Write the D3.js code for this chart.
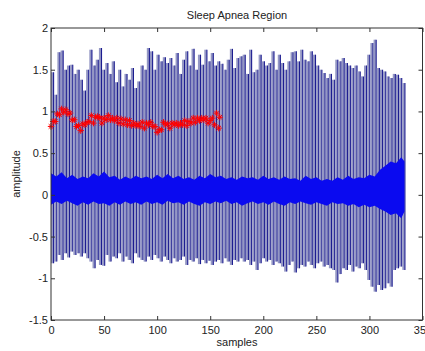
<html>
<head>
<script src="https://d3js.org/d3.v7.min.js"></script>
<style>
  body { margin: 0; background: #fff; }
  svg text { font-family: 'Liberation Sans', Arial, sans-serif; fill: #222; }
</style>
</head>
<body>
<svg id="svg" width="425" height="351"></svg>
<script>
// beat peaks / troughs (one value per visible spike)
var peaks = [1.47, 1.2, 1.71, 1.73, 1.5, 1.55, 1.56, 1.45, 1.5, 1.38,
  1.25, 1.5, 1.74, 1.55, 1.62, 1.76, 1.5, 1.58, 1.45, 1.6,
  1.35, 1.5, 1.3, 1.45, 1.38, 1.52, 1.28, 1.36, 1.55, 1.5,
  1.76, 1.72, 1.5, 1.68, 1.6, 1.65, 1.58, 1.64, 1.55, 1.7,
  1.45, 1.62, 1.72, 1.55, 1.75, 1.5, 1.68, 1.56, 1.74, 1.6,
  1.7, 1.55, 1.6, 1.57, 1.5, 1.62, 1.75, 1.52, 1.64, 1.66,
  1.68, 1.45, 1.74, 1.47, 1.5, 1.68, 1.6, 1.55, 1.58, 1.72,
  1.5, 1.68, 1.58, 1.5, 1.6, 1.71, 1.72, 1.6, 1.74, 1.62,
  1.6, 1.72, 1.68, 1.55, 1.5, 1.46, 1.4, 1.45, 1.38, 1.62,
  1.6, 1.64, 1.58, 1.55, 1.52, 1.55, 1.48, 1.42, 1.55, 1.68,
  1.82, 1.86, 1.52, 1.5, 1.48, 1.42, 1.4, 1.45, 1.44, 1.4, 1.34];
var troughs = [-0.82, -0.8, -0.72, -0.78, -0.7, -0.75, -0.68, -0.72, -0.7, -0.74,
  -0.7, -0.76, -0.8, -0.88, -0.78, -0.84, -0.85, -0.72, -0.8, -0.74,
  -0.76, -0.7, -0.8, -0.74, -0.78, -0.82, -0.7, -0.75, -0.78, -0.8,
  -0.74, -0.78, -0.72, -0.76, -0.8, -0.74, -0.78, -0.82, -0.76, -0.8,
  -0.78, -0.74, -0.84, -0.78, -0.8, -0.76, -0.83, -0.78, -0.82, -0.79,
  -0.84, -0.8, -0.78, -0.82, -0.76, -0.8, -0.84, -0.78, -0.8, -0.76,
  -0.8, -0.78, -0.84, -0.8, -0.9, -0.82, -0.76, -0.8, -0.78, -0.84,
  -0.8, -0.82, -0.86, -0.92, -0.84, -0.8, -0.93, -0.88, -0.84, -0.86,
  -0.8, -0.84, -0.88, -0.82, -0.8, -0.86, -0.84, -0.88, -0.9, -1.05,
  -0.95, -0.88, -0.9, -0.84, -0.92, -0.86, -0.88, -0.82, -0.9, -1.02,
  -1.1, -1.16, -1.08, -1.14, -1.12, -1.06, -1.1, -0.9, -0.88, -0.86, -0.9];

// dense baseline band (envelope)
var bandX = [0, 5, 10, 15, 20, 25, 30, 35, 40, 45, 50, 55, 60, 65, 70, 75, 80, 85, 90, 95,
  100, 105, 110, 115, 120, 125, 130, 135, 140, 145, 150, 155, 160, 165, 170, 175, 180, 185, 190, 195,
  200, 205, 210, 215, 220, 225, 230, 235, 240, 245, 250, 255, 260, 265, 270, 275, 280, 285, 290, 295,
  300, 305, 310, 315, 320, 325, 330, 333];
var bandHi = [0.26, 0.22, 0.27, 0.2, 0.24, 0.19, 0.22, 0.2, 0.26, 0.22, 0.28, 0.21, 0.23, 0.18, 0.22,
  0.19, 0.23, 0.2, 0.22, 0.19, 0.24, 0.2, 0.25, 0.2, 0.23, 0.19, 0.21, 0.18, 0.23, 0.2, 0.25, 0.21,
  0.23, 0.19, 0.21, 0.18, 0.22, 0.2, 0.21, 0.18, 0.23, 0.19, 0.21, 0.18, 0.22, 0.19, 0.2, 0.17, 0.23,
  0.19, 0.21, 0.17, 0.19, 0.17, 0.21, 0.18, 0.23, 0.19, 0.21, 0.2, 0.24, 0.22, 0.3, 0.35, 0.4, 0.38,
  0.45, 0.4];
var bandLo = [-0.12, -0.08, -0.11, -0.07, -0.1, -0.13, -0.09, -0.12, -0.08, -0.11, -0.1, -0.13, -0.09,
  -0.12, -0.08, -0.11, -0.09, -0.12, -0.08, -0.11, -0.09, -0.12, -0.07, -0.1, -0.09, -0.12, -0.08,
  -0.11, -0.13, -0.09, -0.11, -0.08, -0.1, -0.07, -0.11, -0.09, -0.13, -0.1, -0.08, -0.11, -0.09,
  -0.12, -0.08, -0.11, -0.13, -0.09, -0.11, -0.08, -0.1, -0.12, -0.09, -0.11, -0.13, -0.09, -0.11,
  -0.1, -0.13, -0.11, -0.15, -0.12, -0.15, -0.13, -0.17, -0.2, -0.24, -0.22, -0.28, -0.2];

// red detection markers
var redX = [0, 2, 4, 6, 8, 10, 12, 14, 16, 18, 20, 22, 24, 26, 28, 30, 32, 34, 36, 38, 40, 42, 44, 46,
  48, 50, 52, 54, 56, 58, 60, 62, 64, 66, 68, 70, 72, 74, 76, 78, 80, 82, 84, 86, 88, 90, 92, 94, 96,
  98, 100, 102, 104, 106, 108, 110, 112, 114, 116, 118, 120, 122, 124, 126, 128, 130, 132, 134, 136,
  138, 140, 142, 144, 146, 148, 150, 152, 154, 156, 158, 159];
var redY = [0.82, 0.88, 0.88, 0.97, 0.96, 1.03, 0.99, 1.02, 0.97, 0.98, 0.9, 0.9, 0.82, 0.83, 0.77,
  0.85, 0.84, 0.87, 0.88, 0.95, 0.86, 0.93, 0.94, 0.92, 0.86, 0.92, 0.9, 0.95, 0.9, 0.92, 0.89, 0.92,
  0.86, 0.91, 0.85, 0.9, 0.84, 0.89, 0.83, 0.86, 0.83, 0.85, 0.82, 0.87, 0.8, 0.86, 0.84, 0.87, 0.82,
  0.82, 0.75, 0.78, 0.78, 0.87, 0.84, 0.85, 0.8, 0.86, 0.84, 0.86, 0.83, 0.86, 0.84, 0.89, 0.83, 0.88,
  0.86, 0.92, 0.87, 0.92, 0.89, 0.92, 0.9, 0.92, 0.86, 0.89, 0.92, 0.84, 0.98, 0.8, 0.93];

var xTicks = [0, 50, 100, 150, 200, 250, 300, 350];
var yTicks = [-1.5, -1, -0.5, 0, 0.5, 1, 1.5, 2];

var svg = d3.select("svg");
var x = d3.scaleLinear().domain([0, 350]).range([51, 422.5]);
var y = d3.scaleLinear().domain([-1.5, 2]).range([320, 28]);
var beat = d3.scaleLinear().domain([0, peaks.length - 1]).range([0, 331]);

// spikes
var spikes = svg.append("g");
peaks.forEach(function(p, i) {
    var px = x(beat(i));
    spikes.append("rect")
        .attr("x", px).attr("width", 2.5)
        .attr("y", y(p)).attr("height", y(troughs[i]) - y(p))
        .attr("fill", "#9497c4");
    spikes.append("line")
        .attr("x1", px + 2.6).attr("x2", px + 2.6)
        .attr("y1", y(p)).attr("y2", y(troughs[i]))
        .attr("stroke", "#1c1c90").attr("stroke-width", 1.1);
});

// baseline band
var area = d3.area()
    .x(function(d, i) { return x(bandX[i]); })
    .y0(function(d, i) { return y(bandLo[i]); })
    .y1(function(d, i) { return y(bandHi[i]); });
svg.append("path").datum(bandX).attr("d", area).attr("fill", "#0a0af0");

// red markers
var marks = svg.append("g").attr("stroke", "#ff0000").attr("stroke-width", 1);
redX.forEach(function(v, i) {
    var cx = x(v), cy = y(redY[i]), s = 3.2, t = 2.3;
    marks.append("path")
        .attr("d", "M" + (cx - s) + "," + cy + "H" + (cx + s) + "M" + cx + "," + (cy - s) + "V" + (cy + s)
            + "M" + (cx - t) + "," + (cy - t) + "L" + (cx + t) + "," + (cy + t)
            + "M" + (cx - t) + "," + (cy + t) + "L" + (cx + t) + "," + (cy - t))
        .attr("fill", "none");
});

// axes with inward ticks
function styleAxis(g) {
    g.select(".domain").remove();
    g.selectAll(".tick line").attr("stroke", "#333");
    g.selectAll("text").attr("font-size", 11).attr("fill", "#222")
        .style("font-family", "'Liberation Sans', Arial, sans-serif");
}
svg.append("g").attr("transform", "translate(0,320)")
    .call(d3.axisBottom(x).tickValues(xTicks).tickSize(-4).tickPadding(6).tickFormat(d3.format("d")))
    .call(styleAxis);
svg.append("g").attr("transform", "translate(0,28)")
    .call(d3.axisTop(x).tickValues(xTicks).tickSize(-4).tickFormat(""))
    .call(styleAxis);
svg.append("g").attr("transform", "translate(51,0)")
    .call(d3.axisLeft(y).tickValues(yTicks).tickSize(-4).tickPadding(3).tickFormat(function(d) { return String(d); }))
    .call(styleAxis);
svg.append("g").attr("transform", "translate(422.5,0)")
    .call(d3.axisRight(y).tickValues(yTicks).tickSize(-4).tickFormat(""))
    .call(styleAxis);

svg.append("rect").attr("x", 51).attr("y", 28).attr("width", 371.5).attr("height", 292)
    .attr("fill", "none").attr("stroke", "#333").attr("stroke-width", 1);

svg.append("text").attr("x", 237).attr("y", 19).attr("text-anchor", "middle")
    .attr("font-size", 11).text("Sleep Apnea Region");
svg.append("text").attr("x", 237).attr("y", 346).attr("text-anchor", "middle")
    .attr("font-size", 11).text("samples");
svg.append("text").attr("transform", "translate(20,174) rotate(-90)").attr("text-anchor", "middle")
    .attr("font-size", 11).text("amplitude");
</script>
</body>
</html>
